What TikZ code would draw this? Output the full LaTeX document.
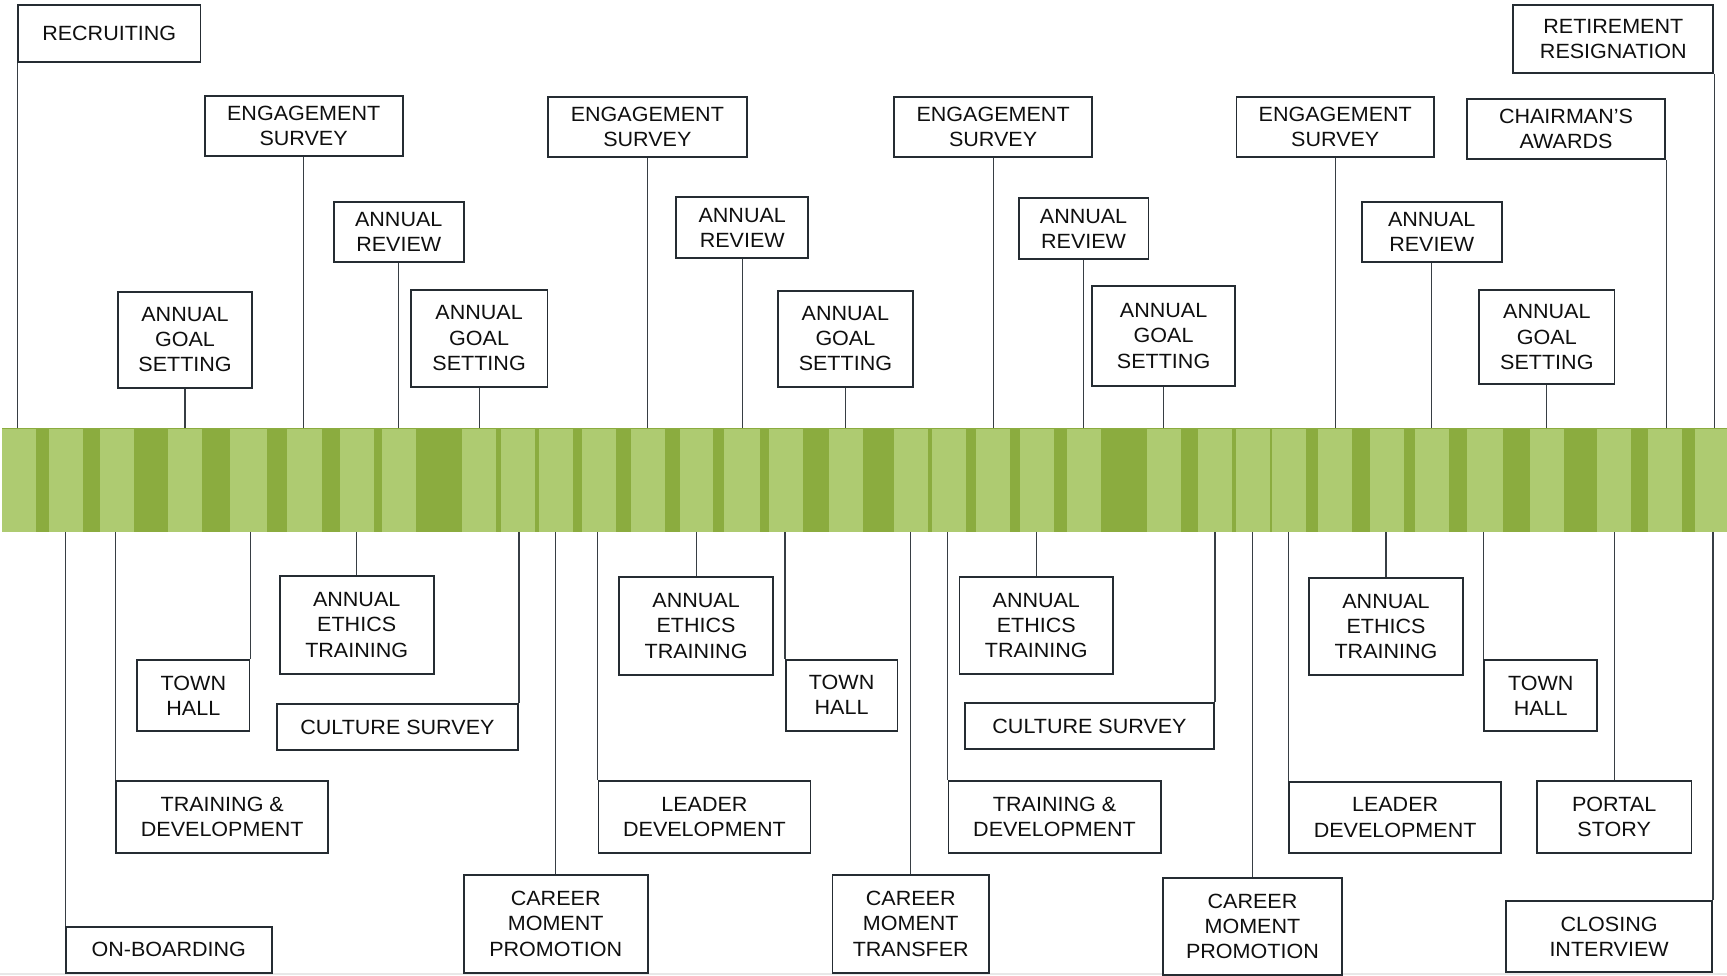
\documentclass[tikz,border=0pt]{standalone}
\usepackage{fontspec}
\setmainfont{Liberation Sans}[FakeStretch=1.045]
\definecolor{gdark}{RGB}{139,172,63}
\definecolor{glight}{RGB}{174,203,113}
\definecolor{boxline}{RGB}{37,44,50}
\definecolor{connline}{RGB}{55,62,68}
\definecolor{txt}{RGB}{15,15,15}
\tikzset{
 ebox/.style={draw=boxline, line width=1.8pt, fill=white, inner sep=0pt, align=center, text=txt, font=\fontsize{20.6}{25.2}\selectfont},
 conn/.style={draw=connline, line width=1.2pt},
 bandbox/.style={fill=gdark, inner sep=0pt, draw=none},
 stripefill/.style={fill=glight},
}
\newcommand{\ebx}[6]{\node[ebox, minimum width={#4pt-#2pt}, minimum height={#5pt-#3pt}] (#1) at ({(#2+#4)/2},{(#3+#5)/2}) {#6};}
\begin{document}
\begin{tikzpicture}[x=1pt,y=-1pt]
\useasboundingbox (0,0) rectangle (1727,976);
\fill[gray!18] (0,972.8) rectangle (1727,975);
% band
\node[bandbox, minimum width=1725.2pt, minimum height=104pt] (band) at (864.4,480) {};
\foreach \a/\b in {1.8/35.9, 48.8/82.9, 99.9/133.9, 167.9/202, 230.1/267.1, 287/322.2, 340/374, 382/416, 462/496, 500.8/534.9, 539/573, 581.8/615.9, 631/665, 679.9/713.2, 723.9/760.1, 769/803, 829/863, 894/928, 932/966, 976/1010, 1020/1053.8, 1067/1101, 1146.7/1181, 1198/1232, 1235.8/1270, 1272/1306, 1317.8/1352, 1370/1404, 1415/1449, 1467/1503, 1530/1564, 1597/1631, 1648/1682, 1695/1727}
  {\fill[stripefill] (\a,429) rectangle (\b,531.5);}
% top boxes
\ebx{rec}{18}{5}{200.5}{62.3}{RECRUITING}
\ebx{es1}{204.7}{96}{402.6}{155.7}{ENGAGEMENT\\SURVEY}
\ebx{ar1}{333.7}{201.7}{463.8}{262}{ANNUAL\\REVIEW}
\ebx{ag1}{117.9}{291.9}{252.2}{387.7}{ANNUAL\\GOAL\\SETTING}
\ebx{ag2}{410.8}{289.7}{547.4}{386.6}{ANNUAL\\GOAL\\SETTING}
\ebx{es2}{548}{96.7}{746.7}{157}{ENGAGEMENT\\SURVEY}
\ebx{ar2}{676.2}{197.3}{808.3}{258}{ANNUAL\\REVIEW}
\ebx{ag3}{778}{290.7}{912.8}{386.7}{ANNUAL\\GOAL\\SETTING}
\ebx{es3}{894}{96.7}{1092.2}{157}{ENGAGEMENT\\SURVEY}
\ebx{ar3}{1018.6}{198.3}{1148.5}{259}{ANNUAL\\REVIEW}
\ebx{ag4}{1092.2}{286}{1235}{386}{ANNUAL\\GOAL\\SETTING}
\ebx{es4}{1236.5}{97.3}{1434}{157.3}{ENGAGEMENT\\SURVEY}
\ebx{ca}{1466.8}{98.7}{1665.2}{159}{CHAIRMAN’S\\AWARDS}
\ebx{ar4}{1361.6}{202.3}{1501.8}{261.7}{ANNUAL\\REVIEW}
\ebx{ag5}{1479.3}{290}{1614.4}{384.3}{ANNUAL\\GOAL\\SETTING}
\ebx{rr}{1513.3}{5}{1713.3}{73}{RETIREMENT\\RESIGNATION}
% bottom boxes
\ebx{ob}{66}{926.7}{271.6}{972.7}{ON-BOARDING}
\ebx{td1}{116.3}{781}{328.2}{852.7}{TRAINING \&\\DEVELOPMENT}
\ebx{th1}{137.2}{660}{249.5}{731.3}{TOWN\\HALL}
\ebx{et1}{279.6}{576}{433.8}{674}{ANNUAL\\ETHICS\\TRAINING}
\ebx{cs1}{276.8}{704}{518}{750}{CULTURE SURVEY}
\ebx{cp1}{463.8}{875}{647.6}{972.7}{CAREER\\MOMENT\\PROMOTION}
\ebx{ld1}{598.5}{781}{810.4}{852.7}{LEADER\\DEVELOPMENT}
\ebx{et2}{619}{577.3}{773.2}{674.7}{ANNUAL\\ETHICS\\TRAINING}
\ebx{th2}{785.8}{659.7}{897.4}{730.7}{TOWN\\HALL}
\ebx{ct}{832.5}{875}{989}{972.7}{CAREER\\MOMENT\\TRANSFER}
\ebx{td2}{948.4}{781}{1160.7}{852.7}{TRAINING \&\\DEVELOPMENT}
\ebx{et3}{959.4}{576.7}{1113.2}{674}{ANNUAL\\ETHICS\\TRAINING}
\ebx{cs2}{965}{703.3}{1214}{749}{CULTURE SURVEY}
\ebx{cp2}{1162.7}{878.3}{1342.2}{975}{CAREER\\MOMENT\\PROMOTION}
\ebx{ld2}{1289.2}{781.7}{1501}{853.3}{LEADER\\DEVELOPMENT}
\ebx{et4}{1309}{578}{1463}{675.3}{ANNUAL\\ETHICS\\TRAINING}
\ebx{th3}{1484.2}{660}{1597.2}{731.3}{TOWN\\HALL}
\ebx{ps}{1536.9}{781}{1691.4}{852.7}{PORTAL\\STORY}
\ebx{ci}{1506.2}{901}{1712}{972}{CLOSING\\INTERVIEW}
% top connectors
\foreach \n in {es1,ar1,ag1,ag2,es2,ar2,ag3,es3,ar3,ag4,es4,ar4,ag5}
  {\draw[conn] (\n.south) -- (\n.south |- band.north);}
\draw[conn] (rec.south west) -- (rec.south west |- band.north);
\draw[conn] (ca.south east) -- (ca.south east |- band.north);
\draw[conn] (rr.south east) -- (rr.south east |- band.north);
% bottom connectors
\foreach \n in {et1,cp1,et2,ct,et3,cp2,et4,ps}
  {\draw[conn] (\n.north) -- (\n.north |- band.south);}
\foreach \n in {ob,td1,ld1,th2,td2,ld2,th3}
  {\draw[conn] (\n.north west) -- (\n.north west |- band.south);}
\foreach \n in {th1,cs1,cs2,ci}
  {\draw[conn] (\n.north east) -- (\n.north east |- band.south);}
\end{tikzpicture}
\end{document}
